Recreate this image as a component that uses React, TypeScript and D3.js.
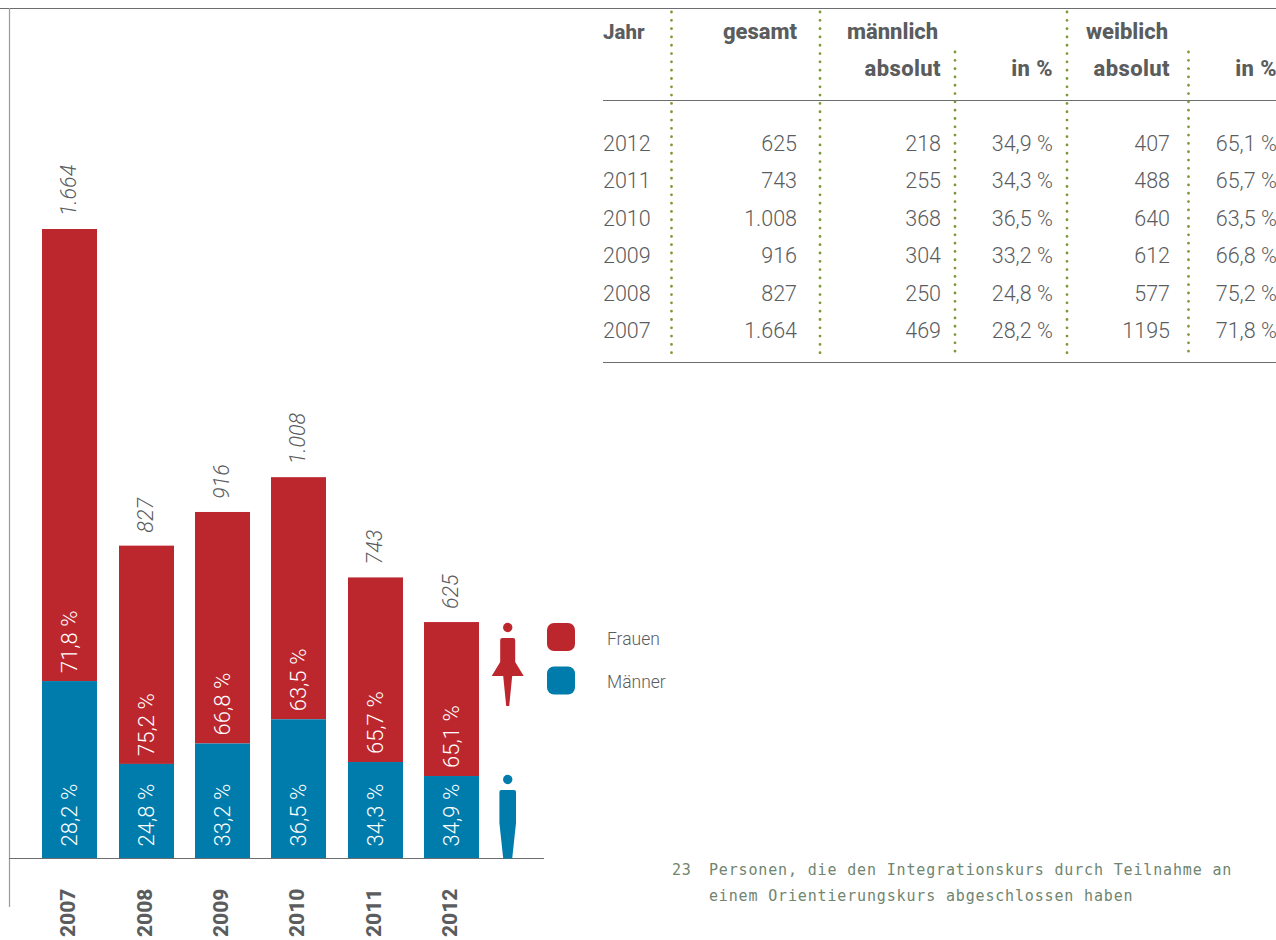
import React from "react";
import * as d3 from "d3";

const years = ["2007", "2008", "2009", "2010", "2011", "2012"];
const totals = [1664, 827, 916, 1008, 743, 625];
const men = [469, 250, 304, 368, 255, 218];
const women = [1195, 577, 612, 640, 488, 407];
const menPct = [28.2, 24.8, 33.2, 36.5, 34.3, 34.9];
const womenPct = [71.8, 75.2, 66.8, 63.5, 65.7, 65.1];
const legendItems = ["Frauen", "Männer"];
const footnote = [
  "Personen, die den Integrationskurs durch Teilnahme an",
  "einem Orientierungskurs abgeschlossen haben",
];

const RED = "#bc272e";
const BLUE = "#007cac";
const TEXT = "#5a5c5e";
const LINE = "#6b6d6f";
const DOTS = "#7a9a35";
const NOTE = "#6f8570";
const FONT = "Roboto, sans-serif";

const de = d3.formatLocale({ decimal: ",", thousands: ".", grouping: [3], currency: ["", " €"] });
const fmtInt = de.format(",d");
const fmtPct = (v: number) => de.format(".1f")(v) + "\u2005%";

const baseY = 858.5;
const x = d3.scaleBand().domain(years).range([42.2, 479.2]).paddingInner(0.28);
const y = d3.scaleLinear().domain([0, 1664]).range([baseY, 229]);

// table rows, newest first
const rowOrder = [...years.keys()].reverse();
const rowY = d3.scalePoint<number>().domain(rowOrder).range([151, 338]);

const colRight = { year: 603, total: 797, men: 941, menPct: 1053, women: 1170, womenPct: 1277 };

function Rotated({ cx, y0, children, ...rest }: any) {
  return (
    <text transform={`translate(${cx},${y0}) rotate(-90)`} fontFamily={FONT} {...rest}>
      {children}
    </text>
  );
}

function Bars() {
  return (
    <g>
      {years.map((yr, i) => {
        const left = Math.round(x(yr)!);
        const w = Math.round(x.bandwidth());
        const mid = left + w / 2;
        const split = y(men[i]);
        return (
          <g key={yr}>
            <rect x={left} y={y(totals[i])} width={w} height={split - y(totals[i])} fill={RED} />
            <rect x={left} y={split} width={w} height={baseY - split} fill={BLUE} />
            <Rotated cx={mid + 7.5} y0={baseY - 12} fontSize={22} fontWeight={300} fill="#fff">
              {fmtPct(menPct[i])}
            </Rotated>
            <Rotated cx={mid + 7.5} y0={split - 8} fontSize={22} fontWeight={300} fill="#fff">
              {fmtPct(womenPct[i])}
            </Rotated>
            <Rotated cx={mid + 6.5} y0={y(totals[i]) - 13} fontSize={21.5} fontWeight={300} fontStyle="italic" fill={TEXT}>
              {fmtInt(totals[i])}
            </Rotated>
            <Rotated cx={mid + 5.5} y0={937} fontSize={21} fontWeight={800} fill={TEXT}>
              {yr}
            </Rotated>
          </g>
        );
      })}
    </g>
  );
}

function Figures() {
  const cx = 507.7;
  const woman = d3.path();
  woman.moveTo(cx - 7.5, 640);
  woman.quadraticCurveTo(cx - 7.5, 638, cx - 5.5, 638);
  woman.lineTo(cx + 5.5, 638);
  woman.quadraticCurveTo(cx + 7.5, 638, cx + 7.5, 640);
  woman.lineTo(cx + 7.5, 662);
  woman.lineTo(cx + 16, 676);
  woman.lineTo(cx + 4.5, 676);
  woman.lineTo(cx + 1.5, 706);
  woman.lineTo(cx - 1.5, 706);
  woman.lineTo(cx - 4.5, 676);
  woman.lineTo(cx - 16, 676);
  woman.lineTo(cx - 7.5, 662);
  woman.closePath();

  const man = d3.path();
  man.moveTo(cx - 8.3, 792);
  man.quadraticCurveTo(cx - 8.3, 790, cx - 6.3, 790);
  man.lineTo(cx + 6.3, 790);
  man.quadraticCurveTo(cx + 8.3, 790, cx + 8.3, 792);
  man.lineTo(cx + 8.3, 823);
  man.lineTo(cx + 4.5, baseY);
  man.lineTo(cx - 4.5, baseY);
  man.lineTo(cx - 8.3, 823);
  man.closePath();

  return (
    <g>
      <circle cx={cx} cy={627.5} r={4.7} fill={RED} />
      <path d={woman.toString()} fill={RED} />
      <circle cx={cx} cy={779.5} r={4.7} fill={BLUE} />
      <path d={man.toString()} fill={BLUE} />
    </g>
  );
}

function Legend() {
  const colors = [RED, BLUE];
  const tops = [623, 666.5];
  const baselines = [645, 687.5];
  return (
    <g>
      {legendItems.map((name, i) => (
        <g key={name}>
          <rect x={547} y={tops[i]} width={28} height={28} rx={7} fill={colors[i]} />
          <text x={607} y={baselines[i]} fontFamily={FONT} fontSize={17.5} fontWeight={300} fill={TEXT}>
            {name}
          </text>
        </g>
      ))}
    </g>
  );
}

function Table() {
  const head = { fontFamily: FONT, fontSize: 22, fontWeight: 800, fill: TEXT };
  const headWide = { ...head, letterSpacing: 0.4 };
  const cell = { fontFamily: FONT, fontSize: 21.5, fontWeight: 300, fill: TEXT, textAnchor: "end" as const };
  const dotted = [
    [671.5, 12],
    [820, 12],
    [955, 52],
    [1067, 12],
    [1188.5, 52],
  ];
  return (
    <g>
      <line x1={603} x2={1276} y1={100.5} y2={100.5} stroke={LINE} strokeWidth={1} />
      <line x1={603} x2={1276} y1={362.5} y2={362.5} stroke={LINE} strokeWidth={1} />
      {dotted.map(([px, top]) => (
        <line key={px} x1={px} x2={px} y1={top} y2={358} stroke={DOTS} strokeWidth={2.8}
          strokeLinecap="round" strokeDasharray="0.01 8.3" />
      ))}
      <text x={603} y={39} {...head} fontSize={20.5}>Jahr</text>
      <text x={colRight.total} y={39} textAnchor="end" {...head}>gesamt</text>
      <text x={847} y={39} {...head}>männlich</text>
      <text x={1086} y={39} {...head}>weiblich</text>
      <text x={colRight.men} y={76} textAnchor="end" {...headWide}>absolut</text>
      <text x={colRight.menPct} y={76} textAnchor="end" {...headWide}>in{"\u2005"}%</text>
      <text x={colRight.women} y={76} textAnchor="end" {...headWide}>absolut</text>
      <text x={colRight.womenPct} y={76} textAnchor="end" {...headWide}>in{"\u2005"}%</text>
      {rowOrder.map((i) => {
        const ry = rowY(i)!;
        return (
          <g key={years[i]}>
            <text x={colRight.year} y={ry} {...cell} textAnchor="start">{years[i]}</text>
            <text x={colRight.total} y={ry} {...cell}>{fmtInt(totals[i])}</text>
            <text x={colRight.men} y={ry} {...cell}>{men[i]}</text>
            <text x={colRight.menPct} y={ry} {...cell}>{fmtPct(menPct[i])}</text>
            <text x={colRight.women} y={ry} {...cell}>{women[i]}</text>
            <text x={colRight.womenPct} y={ry} {...cell}>{fmtPct(womenPct[i])}</text>
          </g>
        );
      })}
    </g>
  );
}

function Footnote() {
  const note = {
    fontFamily: "'DejaVu Sans Mono', monospace",
    fontSize: 15,
    letterSpacing: 0.84,
    fill: NOTE,
  };
  return (
    <g>
      <text x={672} y={875} {...note}>23</text>
      {footnote.map((t, i) => (
        <text key={t} x={709} y={875 + i * 26} {...note}>{t}</text>
      ))}
    </g>
  );
}

export default function App() {
  return (
    <svg width={1276} height={940} style={{ position: "absolute", left: 0, top: 0, background: "#fff" }}>
      <line x1={0} x2={1276} y1={8.5} y2={8.5} stroke={LINE} strokeWidth={1} />
      <line x1={9.5} x2={9.5} y1={8} y2={907} stroke="#9a9b9c" strokeWidth={1.2} />
      <Bars />
      <line x1={9} x2={544} y1={baseY} y2={baseY} stroke={LINE} strokeWidth={1} />
      <Figures />
      <Legend />
      <Table />
      <Footnote />
    </svg>
  );
}
